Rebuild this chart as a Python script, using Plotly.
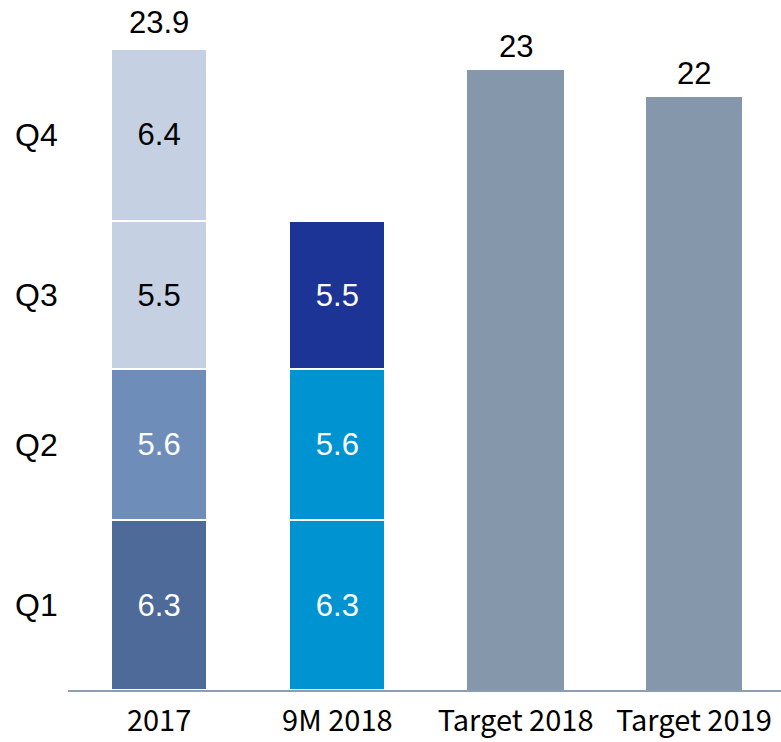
import plotly.graph_objects as go

# data
categories = ["2017", "9M 2018", "Target 2018", "Target 2019"]
quarters = ["Q1", "Q2", "Q3", "Q4"]
q1 = [6.3, 6.3, None, None]
q2 = [5.6, 5.6, None, None]
q3 = [5.5, 5.5, None, None]
q4 = [6.4, None, None, None]
targets = [None, None, 23, 22]
total_2017 = 23.9

# colours per bar for each quarter
q_colors = [
    ["#4d6a98", "#0093d1", "#8597ab", "#8597ab"],
    ["#6e8db9", "#0093d1", "#8597ab", "#8597ab"],
    ["#c5d0e3", "#1b3496", "#8597ab", "#8597ab"],
    ["#c5d0e3", "#1b3496", "#8597ab", "#8597ab"],
]
q_text_colors = [
    ["white", "white"],
    ["white", "white"],
    ["black", "white"],
    ["black", "white"],
]

NUM_FONT = "Liberation Sans, Arial, sans-serif"
LBL_FONT = "Noto Sans CJK SC, Noto Sans, sans-serif"

fig = go.Figure()

for i, (name, vals) in enumerate(zip(quarters, [q1, q2, q3, q4])):
    fig.add_trace(go.Bar(
        x=categories, y=vals, name=name,
        marker=dict(color=q_colors[i], line=dict(color="white", width=2)),
        text=[f"{v}" if v is not None else "" for v in vals],
        textposition="inside", insidetextanchor="middle", textangle=0,
        textfont=dict(family=NUM_FONT, size=31, color=q_text_colors[i] + ["white", "white"]),
        constraintext="none", hoverinfo="skip",
    ))

fig.add_trace(go.Bar(
    x=categories, y=targets, name="Target",
    marker=dict(color="#8597ab", line=dict(width=0)),
    hoverinfo="skip",
))

# totals above the bars
for xi, v in [(0, total_2017), (2, targets[2]), (3, targets[3])]:
    fig.add_annotation(x=xi, y=v, text=str(v), showarrow=False,
                       yanchor="bottom", yshift=4, font=dict(family=NUM_FONT, size=31, color="black"))

# quarter labels on the left, centred on the 2017 segments
cum = 0
for name, vals in zip(quarters, [q1, q2, q3, q4]):
    mid = cum + vals[0] / 2
    cum += vals[0]
    fig.add_annotation(xref="paper", x=-0.077, xanchor="left", y=mid, text=name,
                       showarrow=False, font=dict(family=NUM_FONT, size=32, color="black"))

fig.update_layout(
    width=781, height=742,
    margin=dict(l=68, r=0, t=0, b=52, autoexpand=False),
    barmode="stack", bargap=0.46,
    plot_bgcolor="white", paper_bgcolor="white",
    showlegend=False,
    xaxis=dict(showline=True, linecolor="#8a9db3", linewidth=2, ticks="",
               tickfont=dict(family=LBL_FONT, size=29, color="black"),
               ticklabelstandoff=4,
               range=[-0.511, 3.489], showgrid=False, automargin=False),
    yaxis=dict(visible=False, range=[0, 25.6], showgrid=False, automargin=False),
)

# drop the page's default body margin so the figure sits at the window's corner
fig.write_html("out.html", config={"displayModeBar": False},
               post_script="document.body.style.margin='0';")
